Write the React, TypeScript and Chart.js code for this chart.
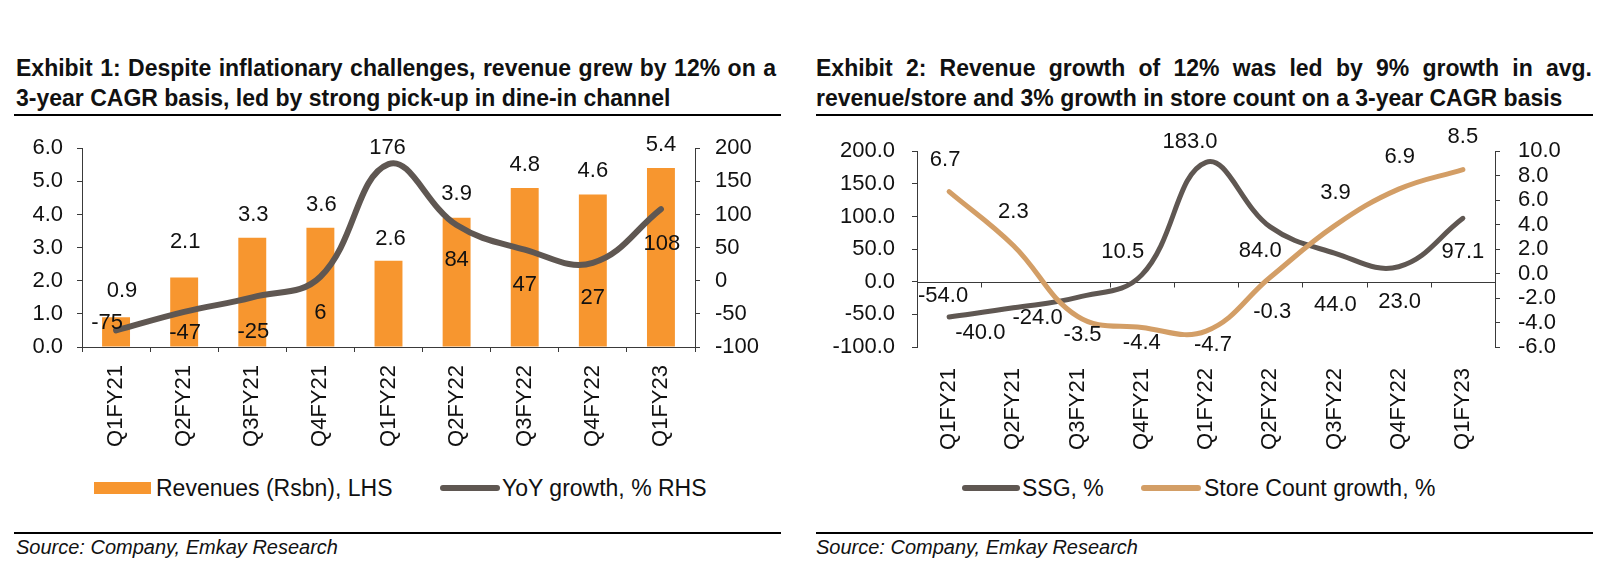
import React, { useEffect, useRef } from "react";
import { Chart, registerables } from "chart.js";

Chart.register(...registerables);

// ---------- data ----------
const categories = ["Q1FY21", "Q2FY21", "Q3FY21", "Q4FY21", "Q1FY22", "Q2FY22", "Q3FY22", "Q4FY22", "Q1FY23"];
const revenues = [0.9, 2.1, 3.3, 3.6, 2.6, 3.9, 4.8, 4.6, 5.4];
const yoyGrowth = [-75, -47, -25, 6, 176, 84, 47, 27, 108];
const ssg = [-54.0, -40.0, -24.0, 10.5, 183.0, 84.0, 44.0, 23.0, 97.1];
const storeCountGrowth = [6.7, 2.3, -3.5, -4.4, -4.7, -0.3, 3.9, 6.9, 8.5];

const revenueTicks = [0, 1, 2, 3, 4, 5, 6];
const yoyTicks = [-100, -50, 0, 50, 100, 150, 200];
const ssgTicks = [-100, -50, 0, 50, 100, 150, 200];
const storeTicks = [-6, -4, -2, 0, 2, 4, 6, 8, 10];

// ---------- style ----------
const FONT = "'Liberation Sans', Arial, Helvetica, sans-serif";
const TEXT = "#111111";
const AXIS = "#3a3a3a";
const ORANGE = "#F7962F";
const DARK = "#5F5752";
const TAN = "#D39E66";

type LabelSet = { dataset: number; offsets: number[][]; format: (v: number) => string };

function makeLabelPlugin(sets: LabelSet[], size: number) {
  return {
    id: "valueLabels",
    afterDatasetsDraw(chart: any) {
      const { ctx } = chart;
      ctx.save();
      ctx.font = `${size}px ${FONT}`;
      ctx.fillStyle = TEXT;
      ctx.textAlign = "center";
      ctx.textBaseline = "middle";
      sets.forEach((s) => {
        const meta = chart.getDatasetMeta(s.dataset);
        const data = chart.data.datasets[s.dataset].data as number[];
        meta.data.forEach((el: any, i: number) => {
          const off = s.offsets[i] || [0, 0];
          ctx.fillText(s.format(data[i]), el.x + off[0], el.y + off[1]);
        });
      });
      ctx.restore();
    },
  };
}

const zeroAxisPlugin = {
  id: "zeroAxis",
  beforeDatasetsDraw(chart: any) {
    const { ctx, chartArea, scales } = chart;
    const y = Math.round(scales.y.getPixelForValue(0)) + 0.5;
    const x = scales.x;
    const n = chart.data.labels.length;
    const step = (x.getPixelForValue(n - 1) - x.getPixelForValue(0)) / (n - 1);
    ctx.save();
    ctx.strokeStyle = AXIS;
    ctx.lineWidth = 1;
    ctx.beginPath();
    ctx.moveTo(chartArea.left, y);
    ctx.lineTo(chartArea.right, y);
    for (let i = 0; i <= n; i++) {
      const px = Math.round(x.getPixelForValue(0) - step / 2 + i * step) + 0.5;
      ctx.moveTo(px, y);
      ctx.lineTo(px, y + 5);
    }
    ctx.stroke();
    ctx.restore();
  },
};

function yAxis(position: "left" | "right", ticks: number[], width: number, padding: number, decimals: number) {
  return {
    position,
    min: ticks[0],
    max: ticks[ticks.length - 1],
    afterBuildTicks: (s: any) => {
      s.ticks = ticks.map((v) => ({ value: v }));
    },
    afterFit: (s: any) => {
      s.width = width;
    },
    ticks: {
      callback: (v: any) => Number(v).toFixed(decimals),
      font: { family: FONT, size: 22 },
      color: TEXT,
      padding,
      autoSkip: false,
    },
    grid: { drawOnChartArea: false, drawTicks: true, tickLength: 5, color: AXIS, lineWidth: 1 },
    border: { display: true, color: AXIS, width: 1 },
  };
}

function xAxis(showAxis: boolean) {
  return {
    type: "category" as const,
    offset: true,
    afterFit: (s: any) => {
      s.height = 118;
    },
    ticks: {
      minRotation: 90,
      maxRotation: 90,
      autoSkip: false,
      font: { family: FONT, size: 22 },
      color: TEXT,
      padding: 13,
    },
    grid: showAxis
      ? { display: true, drawOnChartArea: false, drawTicks: true, tickLength: 5, color: AXIS, offset: true }
      : { display: false },
    border: { display: showAxis, color: AXIS, width: 1 },
  };
}

function ChartOne() {
  const ref = useRef<HTMLCanvasElement>(null);
  useEffect(() => {
    if (!ref.current) return;
    const labels = makeLabelPlugin(
      [
        {
          dataset: 0,
          offsets: [[6, -26], [1, -35], [1, -23], [1, -23], [2, -22], [0, -24], [0, -23], [0, -24], [0, -23]],
          format: (v) => v.toFixed(1),
        },
        {
          dataset: 1,
          offsets: [[-9, -7], [1, 21], [1, 35], [0, 36], [-1, -16], [0, 35], [0, 35], [0, 35], [1, 35]],
          format: (v) => String(v),
        },
      ],
      22
    );
    const chart = new Chart(ref.current, {
      type: "bar",
      data: {
        labels: categories,
        datasets: [
          {
            type: "bar",
            label: "Revenues (Rsbn), LHS",
            data: revenues,
            backgroundColor: ORANGE,
            barPercentage: 0.41,
            categoryPercentage: 1,
            yAxisID: "y",
            order: 1,
          } as any,
          {
            type: "line",
            label: "YoY growth, % RHS",
            data: yoyGrowth,
            borderColor: DARK,
            borderWidth: 6,
            tension: 0.4,
            pointRadius: 0,
            borderCapStyle: "round",
            yAxisID: "y1",
            order: 0,
          } as any,
        ],
      },
      options: {
        responsive: false,
        animation: false,
        devicePixelRatio: 1,
        layout: { padding: { top: 26, left: 0, right: 0, bottom: 0 } },
        plugins: { legend: { display: false }, tooltip: { enabled: false } },
        scales: {
          x: xAxis(true) as any,
          y: yAxis("left", revenueTicks, 82, 14, 1) as any,
          y1: yAxis("right", yoyTicks, 105, 15, 0) as any,
        },
      },
      plugins: [labels],
    });
    return () => chart.destroy();
  }, []);
  return <canvas ref={ref} width={800} height={345} style={{ position: "absolute", left: 0, top: 120, display: "block" }} />;
}

function ChartTwo() {
  const ref = useRef<HTMLCanvasElement>(null);
  useEffect(() => {
    if (!ref.current) return;
    const labels = makeLabelPlugin(
      [
        {
          dataset: 0,
          offsets: [[-6, -21], [-33, 25], [-40, 21], [-19, -23], [-16, -20], [-10, 24], [1, 52], [1, 35], [0, 34]],
          format: (v) => v.toFixed(1),
        },
        {
          dataset: 1,
          offsets: [[-4, -32], [0, -33], [5, 19], [0, 16], [7, 14], [2, 35], [1, -33], [1, -32], [0, -33]],
          format: (v) => v.toFixed(1),
        },
      ],
      22
    );
    const chart = new Chart(ref.current, {
      type: "line",
      data: {
        labels: categories,
        datasets: [
          {
            label: "SSG, %",
            data: ssg,
            borderColor: DARK,
            borderWidth: 5,
            tension: 0.4,
            pointRadius: 0,
            borderCapStyle: "round",
            yAxisID: "y",
            order: 1,
          } as any,
          {
            label: "Store Count growth, %",
            data: storeCountGrowth,
            borderColor: TAN,
            borderWidth: 5,
            tension: 0.4,
            pointRadius: 0,
            borderCapStyle: "round",
            yAxisID: "y1",
            order: 0,
          } as any,
        ],
      },
      options: {
        responsive: false,
        animation: false,
        devicePixelRatio: 1,
        layout: { padding: { top: 26, left: 0, right: 0, bottom: 0 } },
        plugins: { legend: { display: false }, tooltip: { enabled: false } },
        scales: {
          x: xAxis(false) as any,
          y: yAxis("left", ssgTicks, 117, 17, 1) as any,
          y1: yAxis("right", storeTicks, 105, 18, 1) as any,
        },
      },
      plugins: [zeroAxisPlugin, labels],
    });
    return () => chart.destroy();
  }, []);
  return <canvas ref={ref} width={800} height={345} style={{ position: "absolute", left: 800, top: 120, display: "block" }} />;
}

const abs = (s: React.CSSProperties): React.CSSProperties => ({ position: "absolute", ...s });

function Title({ left, width, line1, line2 }: { left: number; width: number; line1: string; line2: string }) {
  return (
    <div style={abs({ left, top: 53, width, fontWeight: "bold", fontSize: 23, lineHeight: "30px" })}>
      <div style={{ whiteSpace: "nowrap", textAlign: "justify", textAlignLast: "justify" } as any}>{line1}</div>
      <div style={{ whiteSpace: "nowrap" }}>{line2}</div>
    </div>
  );
}

export default function App() {
  return (
    <div
      style={{
        position: "absolute",
        left: 0,
        top: 0,
        width: 1600,
        height: 566,
        background: "#fff",
        fontFamily: FONT,
        color: TEXT,
        overflow: "hidden",
      }}
    >
      <Title
        left={16}
        width={760}
        line1="Exhibit 1: Despite inflationary challenges, revenue grew by 12% on a"
        line2="3-year CAGR basis, led by strong pick-up in dine-in channel"
      />
      <div style={abs({ left: 14, top: 114, width: 767, height: 2, background: "#000" })} />
      <Title
        left={816}
        width={776}
        line1="Exhibit 2: Revenue growth of 12% was led by 9% growth in avg."
        line2="revenue/store and 3% growth in store count on a 3-year CAGR basis"
      />
      <div style={abs({ left: 816, top: 114, width: 777, height: 2, background: "#000" })} />

      <ChartOne />
      <ChartTwo />

      {/* legend 1 */}
      <div style={abs({ left: 94, top: 482, width: 57, height: 12, background: ORANGE })} />
      <div style={abs({ left: 156, top: 473, fontSize: 23, lineHeight: "30px", whiteSpace: "nowrap" })}>Revenues (Rsbn), LHS</div>
      <div style={abs({ left: 440, top: 485, width: 60, height: 6, borderRadius: 3, background: DARK })} />
      <div style={abs({ left: 502, top: 473, fontSize: 23, lineHeight: "30px", whiteSpace: "nowrap" })}>YoY growth, % RHS</div>

      {/* legend 2 */}
      <div style={abs({ left: 962, top: 485, width: 58, height: 6, borderRadius: 3, background: DARK })} />
      <div style={abs({ left: 1022, top: 473, fontSize: 23, lineHeight: "30px", whiteSpace: "nowrap" })}>SSG, %</div>
      <div style={abs({ left: 1141, top: 485, width: 60, height: 6, borderRadius: 3, background: TAN })} />
      <div style={abs({ left: 1204, top: 473, fontSize: 23, lineHeight: "30px", whiteSpace: "nowrap" })}>Store Count growth, %</div>

      {/* sources */}
      <div style={abs({ left: 14, top: 532, width: 767, height: 2, background: "#000" })} />
      <div style={abs({ left: 16, top: 535, fontSize: 20, fontStyle: "italic", lineHeight: "24px", whiteSpace: "nowrap" })}>
        Source: Company, Emkay Research
      </div>
      <div style={abs({ left: 816, top: 532, width: 777, height: 2, background: "#000" })} />
      <div style={abs({ left: 816, top: 535, fontSize: 20, fontStyle: "italic", lineHeight: "24px", whiteSpace: "nowrap" })}>
        Source: Company, Emkay Research
      </div>
    </div>
  );
}
